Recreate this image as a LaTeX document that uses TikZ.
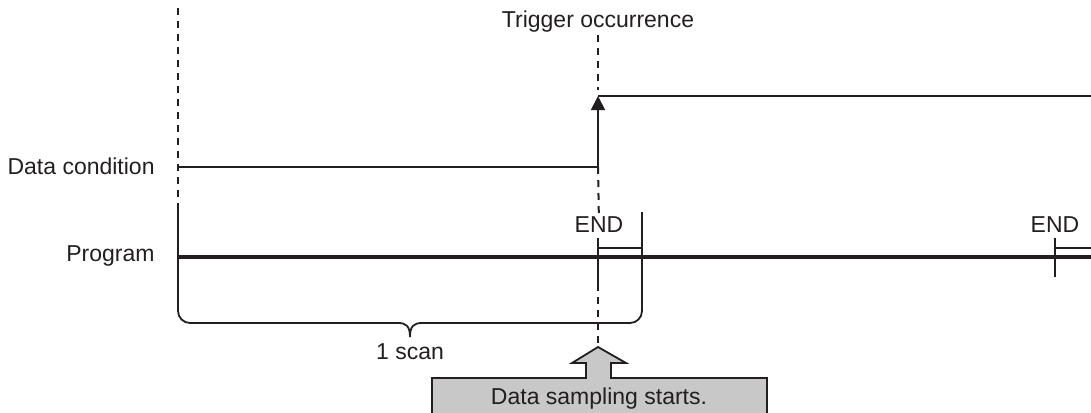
\documentclass[tikz,border=0pt]{standalone}
\usepackage{fontspec}
\setmainfont{Liberation Sans}
\usepackage{tikz}
\usetikzlibrary{arrows.meta, positioning, calc}
\usepackage{xcolor}
\definecolor{chartink}{HTML}{231F20}
\definecolor{chartgray}{HTML}{C8C8C8}

\begin{document}
\begin{tikzpicture}[
    x=0.5pt, y=-0.5pt,
    every node/.style={font=\fontsize{11.5}{13}\selectfont, text=chartink, inner sep=1pt},
    signal/.style={draw=chartink, line width=0.9pt},
    guide/.style={draw=chartink, line width=1pt, dash pattern=on 3.5pt off 3pt},
    program/.style={draw=chartink, line width=2.3pt},
    callout/.style={draw=chartink, fill=chartgray, line width=0.9pt},
    trigarrow/.style={-{Triangle[length=7pt, width=7pt]}, draw=chartink, line width=0.9pt}
]
    \useasboundingbox (0,0) rectangle (1091,412);

    % labels
    \node[anchor=east] (datalbl) at (157,166) {Data condition};
    \node[anchor=east] (proglbl) at (157,256) {Program};
    \node (trigger) at (598,22) {Trigger occurrence};
    \node (endA) at (599,225) {END};
    \node (endB) at (1055,225) {END};
    \node (scan) at (410,352) {1 scan};

    % time marks
    \coordinate (top) at (178,8);
    \coordinate (left) at (178,208);
    \coordinate (condL) at (178,167);
    \coordinate (trig) at (598,167);
    \coordinate (high) at (598,96);
    \coordinate (highR) at (1091,96);
    \coordinate (progL) at (178,257);
    \coordinate (progR) at (1091,257);
    \coordinate (tickA) at (598,238);
    \coordinate (tickB) at (642,212);
    \coordinate (tickC) at (1055,238);
    \coordinate (tip) at (598,347);

    % dashed guides
    \draw[guide] (top) -- (left);
    \draw[guide] (trigger) -- (598,90);
    \draw[guide] (trig) -- (endA);
    \draw[guide] (598,284) -- (tip);

    % data condition
    \draw[signal] (condL) -- (trig);
    \draw[trigarrow] (trig) -- (high);
    \draw[signal] (high) -- (highR);

    % program
    \draw[program] (progL) -- (progR);
    \draw[signal] (tickA) -- (598,284);
    \draw[signal] (tickC) -- (1055,277);
    \draw[signal] (598,248) -- (642,248);
    \draw[signal] (1055,248) -- (1091,248);

    % 1 scan brace
    \draw[signal, rounded corners=6pt] (left) -- (178,323) -- (398,323);
    \draw[signal] (398,323) .. controls (406,323) and (410,326) .. (410,337)
        .. controls (410,326) and (414,323) .. (422,323);
    \draw[signal, rounded corners=6pt] (422,323) -- (642,323) -- (tickB);

    % sampling callout
    \draw[callout] (432,416) -- (432,378) -- (586,378) -- (586,363) -- (572,363)
        -- (tip) -- (626,363) -- (611,363) -- (611,378) -- (767,378) -- (767,416);
    \node (sampling) at (599,399) {Data sampling starts.};
\end{tikzpicture}
\end{document}
